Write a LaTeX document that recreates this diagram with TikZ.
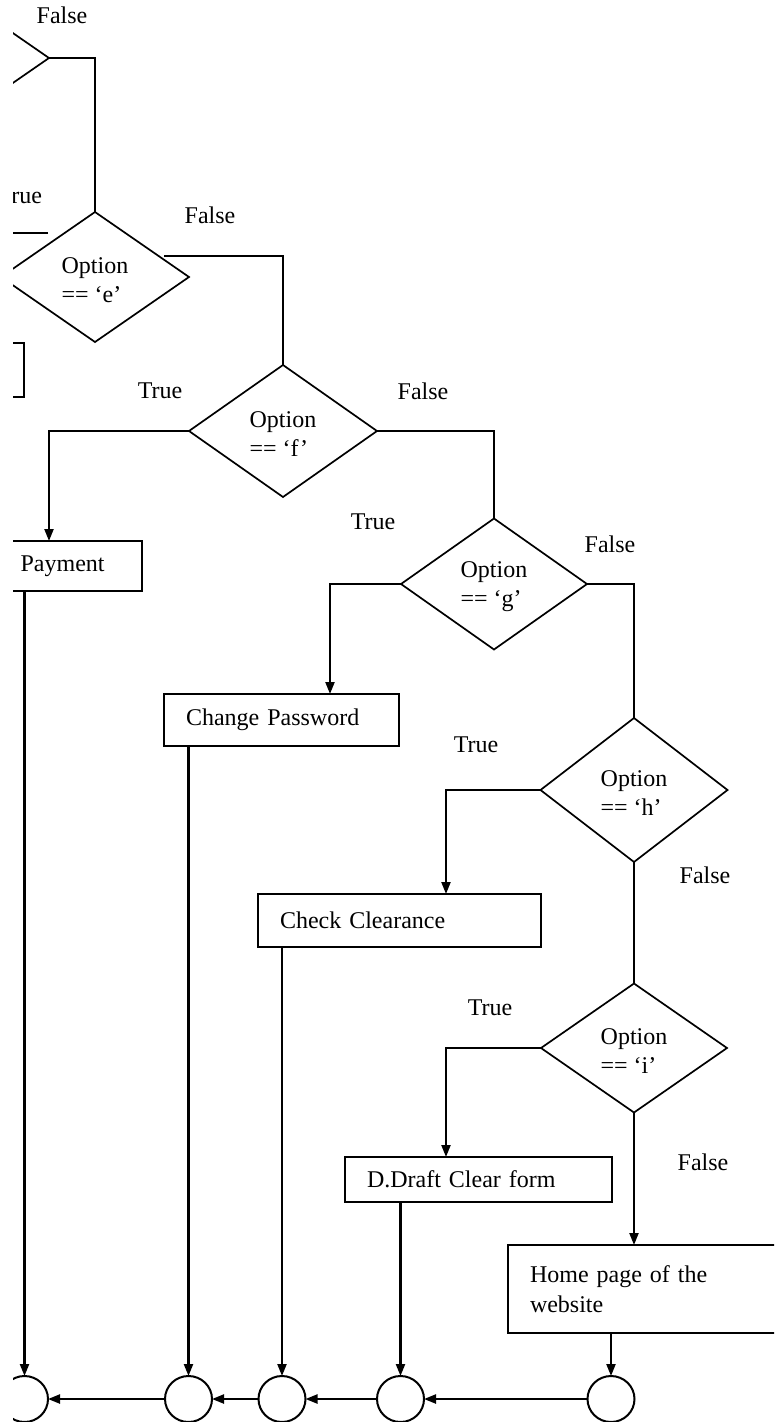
\documentclass[tikz,border=0pt]{standalone}
\usepackage{fontspec}
\setmainfont{Liberation Serif}
\usetikzlibrary{shapes.geometric,arrows.meta}
\begin{document}
\begin{tikzpicture}[x=1pt,y=-1pt,
  font=\fontsize{24}{30}\selectfont,
  line width=1.8pt,
  dia/.style={diamond, draw, inner sep=0pt, outer sep=0pt, line width=1.7pt},
  dtext/.style={align=left, inner sep=0pt, yshift=-3pt, font=\fontsize{24}{29}\selectfont},
  box/.style={rectangle, draw, anchor=north west, align=left, inner xsep=22pt, inner ysep=0pt, outer sep=0pt, line width=2pt},
  circ/.style={ellipse, draw, minimum width=47pt, minimum height=46pt, inner sep=0pt, outer sep=0pt, line width=2pt},
  arr/.style={-{Triangle[length=12pt,width=9pt]}, line width=2.2pt},
  lab/.style={inner sep=0pt}]
\useasboundingbox (0,0) rectangle (782,1422);
\begin{scope}
\clip (13,0) rectangle (774,1422);
% decisions
\node[dia, minimum width=188pt, minimum height=130pt] (d0) at (-45,58) {};
\node[dia, minimum width=188pt, minimum height=130pt] (e) at (95,277) {};
\node[dia, minimum width=188pt, minimum height=132pt] (f) at (283,431) {};
\node[dia, minimum width=186pt, minimum height=131pt] (g) at (494,584) {};
\node[dia, minimum width=187pt, minimum height=144pt] (h) at (634,790) {};
\node[dia, minimum width=186pt, minimum height=129pt] (i) at (634,1048) {};
\node[dtext] (et) at (e) {Option\\== ‘e’};
\node[dtext] (ft) at (f) {Option\\== ‘f’};
\node[dtext] (gt) at (g) {Option\\== ‘g’};
\node[dtext] (ht) at (h) {Option\\== ‘h’};
\node[dtext] (it) at (i) {Option\\== ‘i’};
% boxes
\node[box, text width=142pt, minimum height=50pt] (pay) at (-44,541) {Fee Payment};
\node[box, text width=191pt, minimum height=52pt] (cp) at (164,694) {Change Password};
\node[box, text width=239pt, minimum height=53pt] (cc) at (258,894) {Check Clearance};
\node[box, text width=223pt, minimum height=45pt] (dd) at (345,1157) {D.Draft Clear form};
\node[box, text width=246pt, minimum height=88pt] (hp) at (508,1245) {Home page of the\\website};
\node[rectangle, draw, anchor=north east, minimum width=150pt, minimum height=54pt, outer sep=0pt, line width=2pt] (prev) at (24,343) {};
% circles
\node[circ] (c1) at (24.5,1399) {};
\node[circ] (c2) at (188.5,1399) {};
\node[circ] (c3) at (282,1399) {};
\node[circ] (c4) at (400.5,1399) {};
\node[circ] (c5) at (611,1399) {};
% labels
\node[lab] (l0) at (62,15) {False};
\node[lab, anchor=east] (lte) at (43,196) {True};
\node[lab] (lfe) at (210,215) {False};
\node[lab] (ltf) at (160,391) {True};
\node[lab] (lff) at (423,391) {False};
\node[lab] (ltg) at (373,522) {True};
\node[lab] (lfg) at (610,544) {False};
\node[lab] (lth) at (476,745) {True};
\node[lab] (lfh) at (705,875) {False};
\node[lab] (lti) at (490,1008) {True};
\node[lab] (lfi) at (703,1162) {False};
% connectors
\coordinate (eTa) at (48,233);
\coordinate (eTb) at (0,233);
\coordinate (eF) at (164,256);
\draw (d0.east) -| (e.north);
\draw (eTa) -- (eTb);
\draw (eF) -| (f.north);
\draw[arr] (f.west) -| (pay.north);
\draw (f.east) -| (g.north);
\draw[arr] (g.west) -| ([xshift=166pt]cp.north west);
\draw (g.east) -| (h.north);
\draw[arr] (h.west) -| ([xshift=188pt]cc.north west);
\draw (h.south) -- (i.north);
\draw[arr] (i.west) -| ([xshift=101pt]dd.north west);
\draw[arr] (i.south) -- (i.south |- hp.north);
\draw[arr] (c1 |- pay.south) -- (c1.north);
\draw[arr] (c2 |- cp.south) -- (c2.north);
\draw[arr] (c3 |- cc.south) -- (c3.north);
\draw[arr] (c4 |- dd.south) -- (c4.north);
\draw[arr] (c5 |- hp.south) -- (c5.north);
\draw[arr] (c5.west) -- (c4.east);
\draw[arr] (c4.west) -- (c3.east);
\draw[arr] (c3.west) -- (c2.east);
\draw[arr] (c2.west) -- (c1.east);
\end{scope}
\end{tikzpicture}
\end{document}
